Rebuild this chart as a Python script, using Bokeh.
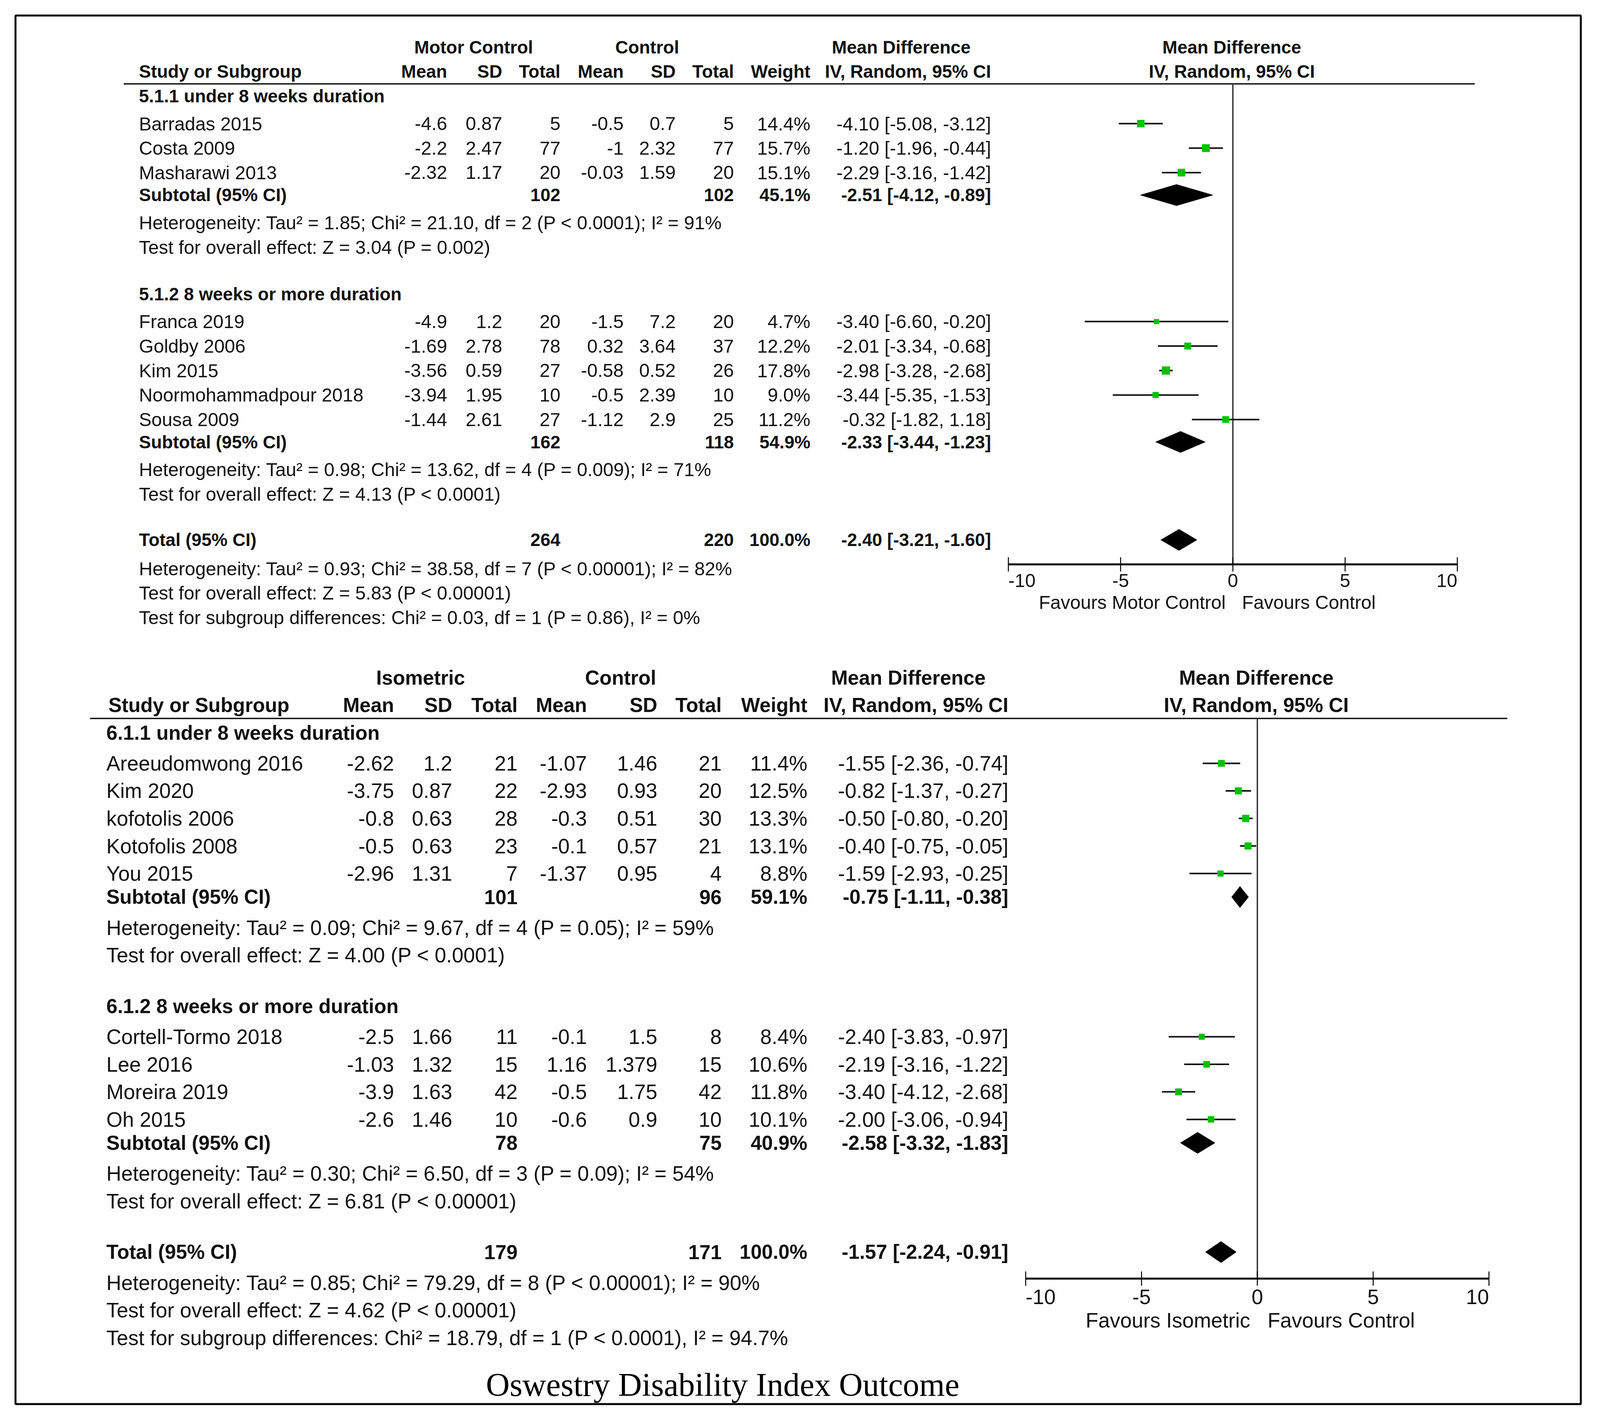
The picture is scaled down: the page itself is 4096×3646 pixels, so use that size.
from bokeh.plotting import figure
from bokeh.models import Range1d, ColumnDataSource
from bokeh.core.properties import value
from bokeh.embed import file_html
from bokeh.resources import INLINE

# ---------------- DATA : panel 1 (Motor Control vs Control) ----------------
p1_studies = ["Barradas 2015", "Costa 2009", "Masharawi 2013",
              "Franca 2019", "Goldby 2006", "Kim 2015", "Noormohammadpour 2018", "Sousa 2009"]
p1_group = [0, 0, 0, 1, 1, 1, 1, 1]
p1_exp_mean = [-4.6, -2.2, -2.32, -4.9, -1.69, -3.56, -3.94, -1.44]
p1_exp_sd = [0.87, 2.47, 1.17, 1.2, 2.78, 0.59, 1.95, 2.61]
p1_exp_n = [5, 77, 20, 20, 78, 27, 10, 27]
p1_ctl_mean = [-0.5, -1, -0.03, -1.5, 0.32, -0.58, -0.5, -1.12]
p1_ctl_sd = [0.7, 2.32, 1.59, 7.2, 3.64, 0.52, 2.39, 2.9]
p1_ctl_n = [5, 77, 20, 20, 37, 26, 10, 25]
p1_weight = [14.4, 15.7, 15.1, 4.7, 12.2, 17.8, 9.0, 11.2]
p1_md = [-4.10, -1.20, -2.29, -3.40, -2.01, -2.98, -3.44, -0.32]
p1_lo = [-5.08, -1.96, -3.16, -6.60, -3.34, -3.28, -5.35, -1.82]
p1_hi = [-3.12, -0.44, -1.42, -0.20, -0.68, -2.68, -1.53, 1.18]
p1_group_titles = ["5.1.1 under 8 weeks duration", "5.1.2 8 weeks or more duration"]
p1_sub_exp_n = [102, 162]
p1_sub_ctl_n = [102, 118]
p1_sub_weight = [45.1, 54.9]
p1_sub_md = [-2.51, -2.33]
p1_sub_lo = [-4.12, -3.44]
p1_sub_hi = [-0.89, -1.23]
p1_sub_het = ["Heterogeneity: Tau\u00b2 = 1.85; Chi\u00b2 = 21.10, df = 2 (P < 0.0001); I\u00b2 = 91%",
              "Heterogeneity: Tau\u00b2 = 0.98; Chi\u00b2 = 13.62, df = 4 (P = 0.009); I\u00b2 = 71%"]
p1_sub_test = ["Test for overall effect: Z = 3.04 (P = 0.002)",
               "Test for overall effect: Z = 4.13 (P < 0.0001)"]
p1_tot_exp_n = 264
p1_tot_ctl_n = 220
p1_tot_weight = 100.0
p1_tot_md = -2.40
p1_tot_lo = -3.21
p1_tot_hi = -1.60
p1_overall = ["Heterogeneity: Tau\u00b2 = 0.93; Chi\u00b2 = 38.58, df = 7 (P < 0.00001); I\u00b2 = 82%",
              "Test for overall effect: Z = 5.83 (P < 0.00001)",
              "Test for subgroup differences: Chi\u00b2 = 0.03, df = 1 (P = 0.86), I\u00b2 = 0%"]
p1_arm_labels = ["Motor Control", "Control"]
p1_favours = ["Favours Motor Control", "Favours Control"]

# ---------------- DATA : panel 2 (Isometric vs Control) ----------------
p2_studies = ["Areeudomwong 2016", "Kim 2020", "kofotolis 2006", "Kotofolis 2008", "You 2015",
              "Cortell-Tormo 2018", "Lee 2016", "Moreira 2019", "Oh 2015"]
p2_group = [0, 0, 0, 0, 0, 1, 1, 1, 1]
p2_exp_mean = [-2.62, -3.75, -0.8, -0.5, -2.96, -2.5, -1.03, -3.9, -2.6]
p2_exp_sd = [1.2, 0.87, 0.63, 0.63, 1.31, 1.66, 1.32, 1.63, 1.46]
p2_exp_n = [21, 22, 28, 23, 7, 11, 15, 42, 10]
p2_ctl_mean = [-1.07, -2.93, -0.3, -0.1, -1.37, -0.1, 1.16, -0.5, -0.6]
p2_ctl_sd = [1.46, 0.93, 0.51, 0.57, 0.95, 1.5, 1.379, 1.75, 0.9]
p2_ctl_n = [21, 20, 30, 21, 4, 8, 15, 42, 10]
p2_weight = [11.4, 12.5, 13.3, 13.1, 8.8, 8.4, 10.6, 11.8, 10.1]
p2_md = [-1.55, -0.82, -0.50, -0.40, -1.59, -2.40, -2.19, -3.40, -2.00]
p2_lo = [-2.36, -1.37, -0.80, -0.75, -2.93, -3.83, -3.16, -4.12, -3.06]
p2_hi = [-0.74, -0.27, -0.20, -0.05, -0.25, -0.97, -1.22, -2.68, -0.94]
p2_group_titles = ["6.1.1 under 8 weeks duration", "6.1.2 8 weeks or more duration"]
p2_sub_exp_n = [101, 78]
p2_sub_ctl_n = [96, 75]
p2_sub_weight = [59.1, 40.9]
p2_sub_md = [-0.75, -2.58]
p2_sub_lo = [-1.11, -3.32]
p2_sub_hi = [-0.38, -1.83]
p2_sub_het = ["Heterogeneity: Tau\u00b2 = 0.09; Chi\u00b2 = 9.67, df = 4 (P = 0.05); I\u00b2 = 59%",
              "Heterogeneity: Tau\u00b2 = 0.30; Chi\u00b2 = 6.50, df = 3 (P = 0.09); I\u00b2 = 54%"]
p2_sub_test = ["Test for overall effect: Z = 4.00 (P < 0.0001)",
               "Test for overall effect: Z = 6.81 (P < 0.00001)"]
p2_tot_exp_n = 179
p2_tot_ctl_n = 171
p2_tot_weight = 100.0
p2_tot_md = -1.57
p2_tot_lo = -2.24
p2_tot_hi = -0.91
p2_overall = ["Heterogeneity: Tau\u00b2 = 0.85; Chi\u00b2 = 79.29, df = 8 (P < 0.00001); I\u00b2 = 90%",
              "Test for overall effect: Z = 4.62 (P < 0.00001)",
              "Test for subgroup differences: Chi\u00b2 = 18.79, df = 1 (P < 0.0001), I\u00b2 = 94.7%"]
p2_arm_labels = ["Isometric", "Control"]
p2_favours = ["Favours Isometric", "Favours Control"]

col_headers = ["Mean", "SD", "Total", "Mean", "SD", "Total", "Weight", "IV, Random, 95% CI"]
axis_ticks = [-10, -5, 0, 5, 10]
caption = "Oswestry Disability Index Outcome"

# ---------------- LAYOUT ----------------
S = 4096 / 1568.0          # reference-preview px -> page px
W, H = 4080, 3630
FONT = "Liberation Sans"

p = figure(width=W, height=H, x_range=Range1d(0, W), y_range=Range1d(H, 0),
           output_backend="svg", toolbar_location=None, x_axis_type=None, y_axis_type=None,
           min_border=0)
p.outline_line_color = None
p.background_fill_color = "white"
p.border_fill_color = "white"


def forest_range(xm10, xp10):
    A, B = xm10 * S, xp10 * S
    k = (B - A) / 20.0
    start = -10 - A / k
    return Range1d(start, start + W / k)


p.extra_x_ranges = {"f1": forest_range(988, 1428), "f2": forest_range(1005, 1459)}


def txt(xs, ys, texts, size, bold=False, align="left", font=FONT, color="#111111", rng="default", dx=0):
    src = ColumnDataSource(dict(x=list(xs), y=list(ys), t=list(texts)))
    p.text(x="x", y="y", text="t", source=src, text_align=align, text_baseline="middle",
           text_font=value(font), text_font_size=value(f"{size:.1f}px"),
           text_font_style="bold" if bold else "normal", text_color=color, x_range_name=rng,
           x_offset=dx)


def g(v):
    return f"{v:g}"


def ci(md, lo, hi):
    return f"{md:.2f} [{lo:.2f}, {hi:.2f}]"


def panel(d, L):
    fs, fb = L["fs"] * S, L["fb"] * S
    rng = L["rng"]
    cols = [c * S for c in L["cols"]]
    # headers
    txt([L["h1x"][0] * S, L["h1x"][1] * S], [L["h1y"] * S] * 2, d["arms"], fb, True, "center")
    txt([L["h1x"][2] * S, L["h1x"][3] * S], [L["h1y"] * S] * 2, ["Mean Difference"] * 2, fb, True, "center")
    txt([L["hx"] * S], [L["h2y"] * S], ["Study or Subgroup"], fb, True, "left")
    txt(cols, [L["h2y"] * S] * 8, col_headers, fb, True, "right")
    txt([L["h1x"][3] * S], [L["h2y"] * S], ["IV, Random, 95% CI"], fb, True, "center")
    p.segment(x0=[L["line_x"][0] * S], x1=[L["line_x"][1] * S], y0=[L["line_y"] * S], y1=[L["line_y"] * S],
              line_color="#111111", line_width=3.5)
    # zero line
    p.segment(x0=[0], x1=[0], y0=[L["line_y"] * S], y1=[L["axis_y"] * S], x_range_name=rng,
              line_color="#333333", line_width=3.5)
    # group titles
    txt([L["sx"] * S] * 2, [y * S for y in L["title_y"]], d["titles"], fb, True)
    # studies
    ys = []
    for gi in range(2):
        k = 0
        for i, gg in enumerate(d["group"]):
            if gg == gi:
                ys.append((L["study_y0"][gi] + k * L["dy"]) * S)
                k += 1
    n = len(d["studies"])
    txt([L["sx"] * S] * n, ys, d["studies"], fs)
    columns = [[g(v) for v in d["em"]], [g(v) for v in d["es"]], [g(v) for v in d["en"]],
               [g(v) for v in d["cm"]], [g(v) for v in d["cs"]], [g(v) for v in d["cn"]],
               [f"{w:.1f}%" for w in d["w"]],
               [ci(a, b, c) for a, b, c in zip(d["md"], d["lo"], d["hi"])]]
    for cx, vals in zip(cols, columns):
        txt([cx] * n, ys, vals, fs, False, "right")
    # subtotals
    sy = [y * S for y in L["sub_y"]]
    txt([L["sx"] * S] * 2, sy, ["Subtotal (95% CI)"] * 2, fb, True)
    txt([cols[2]] * 2, sy, [str(v) for v in d["sen"]], fb, True, "right")
    txt([cols[5]] * 2, sy, [str(v) for v in d["scn"]], fb, True, "right")
    txt([cols[6]] * 2, sy, [f"{w:.1f}%" for w in d["sw"]], fb, True, "right")
    txt([cols[7]] * 2, sy, [ci(a, b, c) for a, b, c in zip(d["smd"], d["slo"], d["shi"])], fb, True, "right")
    txt([L["sx"] * S] * 2, [y * S for y in L["het_y"]], d["shet"], fs)
    txt([L["sx"] * S] * 2, [y * S for y in L["test_y"]], d["stest"], fs)
    # total
    ty = L["tot_y"] * S
    txt([L["sx"] * S], [ty], ["Total (95% CI)"], fb, True)
    txt([cols[2]], [ty], [str(d["ten"])], fb, True, "right")
    txt([cols[5]], [ty], [str(d["tcn"])], fb, True, "right")
    txt([cols[6]], [ty], [f"{d['tw']:.1f}%"], fb, True, "right")
    txt([cols[7]], [ty], [ci(d["tmd"], d["tlo"], d["thi"])], fb, True, "right")
    txt([L["sx"] * S] * 3, [y * S for y in L["over_y"]], d["over"], fs)
    # forest: CIs and squares
    p.segment(x0=d["lo"], x1=d["hi"], y0=ys, y1=ys, x_range_name=rng, line_color="#111111", line_width=4)
    sizes = [9.5 + 0.6 * w for w in d["w"]]
    p.scatter(x=d["md"], y=ys, size=sizes, marker="square", fill_color="#00C000",
              line_color="#00C000", line_width=1, x_range_name=rng)
    # diamonds
    hh = 10.4 * S
    dm = list(d["smd"]) + [d["tmd"]]
    dl = list(d["slo"]) + [d["tlo"]]
    dh = list(d["shi"]) + [d["thi"]]
    dy_ = sy + [ty]
    p.patches(xs=[[a, m, b, m] for a, m, b in zip(dl, dm, dh)],
              ys=[[y, y - hh, y, y + hh] for y in dy_], x_range_name=rng,
              fill_color="black", line_color="black", line_width=1)
    # axis
    ay = L["axis_y"] * S
    p.segment(x0=[axis_ticks[0]], x1=[axis_ticks[-1]], y0=[ay], y1=[ay], x_range_name=rng,
              line_color="black", line_width=5)
    p.segment(x0=axis_ticks, x1=axis_ticks, y0=[ay - 7 * S] * 5, y1=[ay + 7 * S] * 5,
              x_range_name=rng, line_color="black", line_width=2.5)
    tly = L["tick_y"] * S
    lab = [str(t) for t in axis_ticks]
    txt(axis_ticks[:1], [tly], lab[:1], fs, False, "left", rng=rng)
    txt(axis_ticks[1:4], [tly] * 3, lab[1:4], fs, False, "center", rng=rng)
    txt(axis_ticks[4:], [tly], lab[4:], fs, False, "right", rng=rng)
    fy = L["fav_y"] * S
    txt([0], [fy], [d["fav"][0]], fs, False, "right", rng=rng, dx=-L["fav_gap"][0] * S)
    txt([0], [fy], [d["fav"][1]], fs, False, "left", rng=rng, dx=L["fav_gap"][1] * S)


d1 = dict(studies=p1_studies, group=p1_group, em=p1_exp_mean, es=p1_exp_sd, en=p1_exp_n,
          cm=p1_ctl_mean, cs=p1_ctl_sd, cn=p1_ctl_n, w=p1_weight, md=p1_md, lo=p1_lo, hi=p1_hi,
          titles=p1_group_titles, sen=p1_sub_exp_n, scn=p1_sub_ctl_n, sw=p1_sub_weight,
          smd=p1_sub_md, slo=p1_sub_lo, shi=p1_sub_hi, shet=p1_sub_het, stest=p1_sub_test,
          ten=p1_tot_exp_n, tcn=p1_tot_ctl_n, tw=p1_tot_weight, tmd=p1_tot_md, tlo=p1_tot_lo,
          thi=p1_tot_hi, over=p1_overall, arms=p1_arm_labels, fav=p1_favours)
L1 = dict(fs=18.4, fb=17.6, rng="f1", cols=[438, 492, 549, 611, 662, 719, 794, 971],
          h1x=[464, 634, 883, 1207], h1y=46, h2y=70, hx=136, sx=136, line_x=[121, 1445], line_y=82,
          title_y=[94, 288], study_y0=[121, 315], dy=24, sub_y=[191, 433], het_y=[218, 460],
          test_y=[242, 484], tot_y=529, over_y=[557, 581, 605], axis_y=553, tick_y=569, fav_y=590,
          fav_gap=[7, 9])

d2 = dict(studies=p2_studies, group=p2_group, em=p2_exp_mean, es=p2_exp_sd, en=p2_exp_n,
          cm=p2_ctl_mean, cs=p2_ctl_sd, cn=p2_ctl_n, w=p2_weight, md=p2_md, lo=p2_lo, hi=p2_hi,
          titles=p2_group_titles, sen=p2_sub_exp_n, scn=p2_sub_ctl_n, sw=p2_sub_weight,
          smd=p2_sub_md, slo=p2_sub_lo, shi=p2_sub_hi, shet=p2_sub_het, stest=p2_sub_test,
          ten=p2_tot_exp_n, tcn=p2_tot_ctl_n, tw=p2_tot_weight, tmd=p2_tot_md, tlo=p2_tot_lo,
          thi=p2_tot_hi, over=p2_overall, arms=p2_arm_labels, fav=p2_favours)
L2 = dict(fs=20.3, fb=19.6, rng="f2", cols=[386, 443, 507, 575, 644, 707, 791, 988],
          h1x=[412, 608, 890, 1231], h1y=664, h2y=691, hx=106, sx=104, line_x=[88, 1477], line_y=704,
          title_y=[718, 986], study_y0=[748, 1016], dy=27, sub_y=[879, 1120], het_y=[909, 1150],
          test_y=[936, 1177], tot_y=1227, over_y=[1257, 1284, 1311], axis_y=1253, tick_y=1271, fav_y=1294,
          fav_gap=[7, 10])

panel(d1, L1)
panel(d2, L2)

# outer frame and caption
p.quad(left=[15 * S], right=[1549 * S], top=[15 * S], bottom=[1376 * S], fill_color=None,
       line_color="black", line_width=5)
txt([708 * S], [1357 * S], [caption], 32.2 * S, False, "center", font="Liberation Serif", color="black")

open("out.html", "w").write(file_html(p, INLINE))
